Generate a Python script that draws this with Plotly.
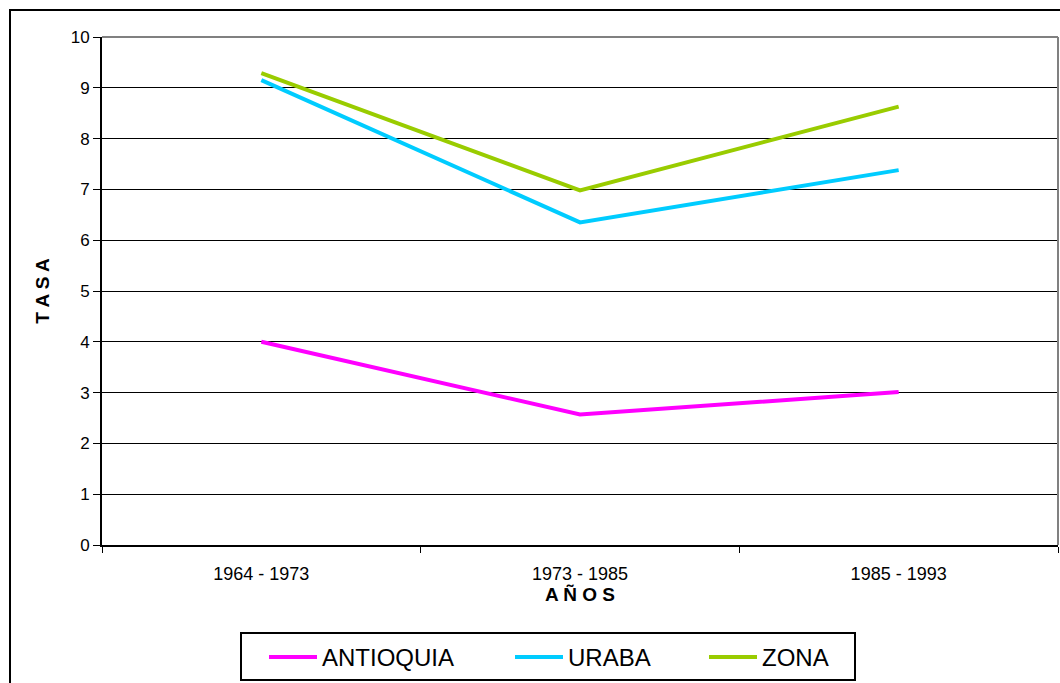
import plotly.graph_objects as go

categories = ["1964 - 1973", "1973 - 1985", "1985 - 1993"]
antioquia = [4.0, 2.57, 3.01]
uraba = [9.15, 6.35, 7.38]
zona = [9.29, 6.98, 8.63]

series = [("ANTIOQUIA", antioquia, "#FF00FF"),
          ("URABA", uraba, "#00CCFF"),
          ("ZONA", zona, "#99CC00")]

W, H = 1060, 683
L, R, T, B = 102, 2, 37, 138
pw, ph = W - L - R, H - T - B

def px(x):
    return (x - L) / pw

def py(y):
    return (H - B - y) / ph

font = "Liberation Sans, Arial, sans-serif"
legend_ids = ["legend", "legend2", "legend3"]
legend_left = [264, 510, 704]

fig = go.Figure()
legend_layout = {}
for (name, vals, color), lid, lx in zip(series, legend_ids, legend_left):
    fig.add_trace(go.Scatter(x=categories, y=vals, name=name, mode="lines",
                             line=dict(color=color, width=4), legend=lid))
    legend_layout[lid] = dict(orientation="h", x=px(lx), xanchor="left",
                              y=py(635), yanchor="top", borderwidth=0,
                              bgcolor="rgba(0,0,0,0)", itemwidth=48,
                              font=dict(size=24, family=font))

fig.update_layout(
    width=W, height=H,
    margin=dict(l=L, r=R, t=T, b=B),
    paper_bgcolor="white", plot_bgcolor="white",
    font=dict(family=font, color="black"),
    showlegend=True,
    **legend_layout,
    xaxis=dict(type="category", range=[-0.5, 2.5], tickson="boundaries",
               ticks="outside", ticklen=6, tickcolor="black", tickwidth=1,
               showline=True, linecolor="black", linewidth=2, showgrid=False,
               tickfont=dict(size=18), ticklabelstandoff=11,
               title=dict(text="<b>A Ñ O S</b>", font=dict(size=19), standoff=4)),
    yaxis=dict(range=[0, 10], dtick=1, ticks="outside", ticklen=7, tickcolor="black",
               showline=True, linecolor="black", linewidth=2,
               showgrid=True, gridcolor="black", gridwidth=1, zeroline=False,
               tickfont=dict(size=17),
               title=dict(text="<b>T A S A</b>", font=dict(size=19), standoff=16)),
    shapes=[
        dict(type="line", xref="paper", yref="paper", x0=0, x1=1, y0=1, y1=1,
             line=dict(color="#808080", width=2)),
        dict(type="line", xref="paper", yref="paper", x0=1, x1=1, y0=0, y1=1,
             line=dict(color="#808080", width=2)),
        dict(type="rect", xref="paper", yref="paper", x0=px(10), x1=px(1075),
             y0=py(700), y1=py(10), line=dict(color="black", width=2),
             fillcolor="rgba(0,0,0,0)", layer="below"),
        dict(type="rect", xref="paper", yref="paper", x0=px(241), x1=px(855),
             y0=py(680), y1=py(633), line=dict(color="black", width=2),
             fillcolor="white", layer="below"),
    ],
)

fig.write_html("out.html", config={"displayModeBar": False},
               post_script="document.body.style.margin='0';")
